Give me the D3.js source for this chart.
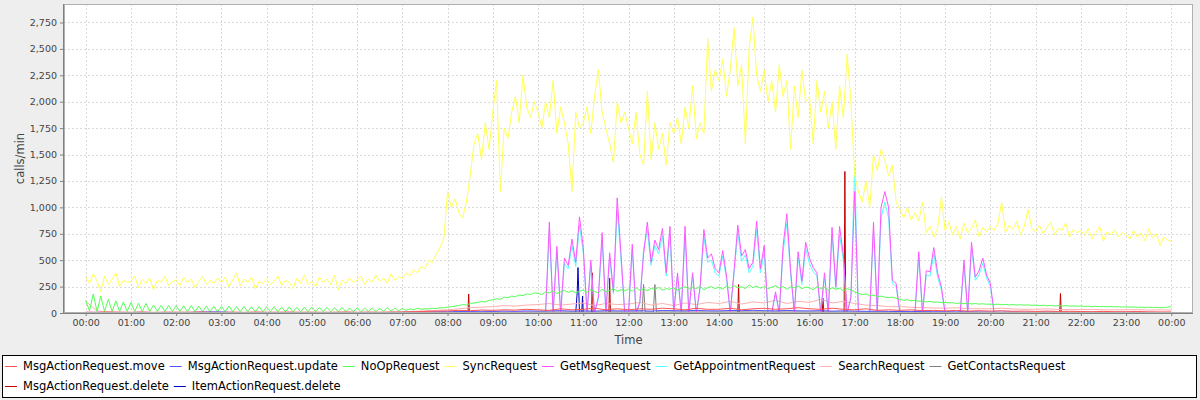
<!DOCTYPE html>
<html><head><meta charset="utf-8">
<script src="https://cdn.jsdelivr.net/npm/d3@7"></script>
<style>
html,body{margin:0;padding:0;background:#eeeeee;}
svg{display:block;font-family:"DejaVu Sans",sans-serif;}
</style></head><body>
<svg id="chart" width="1200" height="400"></svg>
<script>
// ---------------- DATA ----------------
const xTickLabels = ["00:00","01:00","02:00","03:00","04:00","05:00","06:00","07:00","08:00","09:00","10:00","11:00",
  "12:00","13:00","14:00","15:00","16:00","17:00","18:00","19:00","20:00","21:00","22:00","23:00","00:00"];
const yTickValues = [0,250,500,750,1000,1250,1500,1750,2000,2250,2500,2750];
const seriesNames = ["MsgActionRequest.move","MsgActionRequest.update","NoOpRequest","SyncRequest","GetMsgRequest",
  "GetAppointmentRequest","SearchRequest","GetContactsRequest","MsgActionRequest.delete","ItemActionRequest.delete"];
const xAxisTitle = "Time";
const yAxisTitle = "calls/min";

// SyncRequest, every 5 minutes from 00:00
const syncRequest = [
 340,280,370,300,200,350,270,320,380,250,310,290,
 300,350,240,320,280,330,220,310,290,350,260,300,
 310,260,340,290,320,240,300,350,270,310,280,330,
 290,340,250,310,380,260,320,290,340,230,300,280,
 320,270,300,350,260,310,290,230,330,280,360,270,
 300,250,340,290,320,270,360,220,310,280,330,290,
 310,350,270,320,290,360,300,330,280,370,310,340,
 330,380,350,410,380,440,420,500,480,560,620,700,
 1150,1000,1080,950,900,1050,1300,1600,1700,1450,1800,1550,
 1900,2200,1150,1750,1650,1900,2050,1800,2250,1950,1850,2000,
 1900,1750,2000,1850,2200,1700,1950,1800,1600,1150,1900,1750,
 1800,1950,1700,2050,2300,1900,1750,1600,1420,2000,1800,1900,
 1750,1600,1900,1500,1400,2100,1450,1800,1550,1700,1400,1800,
 1700,1850,1600,1950,1750,2150,1650,1800,1700,2600,2100,2300,
 2200,2400,2050,2300,2700,2150,2350,1600,2500,2800,2250,2100,
 2300,2000,2200,1900,2350,2050,2200,1550,2150,1850,2300,2000,
 2050,1600,2200,1900,2100,1750,2000,1550,2150,1850,2450,2000,
 1300,1150,1050,1250,1000,1500,1350,1550,1450,1300,1400,1050,
 980,900,1000,880,950,870,1050,760,820,720,800,1100,
 780,860,740,820,700,850,760,800,880,720,810,770,
 820,780,850,1050,760,830,790,870,740,820,980,800,
 770,830,750,810,860,740,800,780,850,720,790,760,
 780,730,800,700,760,820,680,770,740,790,720,760,
 740,700,780,720,760,680,800,710,750,640,720,690,
 680];

// NoOpRequest, every 5 minutes from 00:00
const noOpRequest = [
 120,20,180,15,160,15,130,15,115,15,105,15,
 100,15,92,15,90,15,75,15,72,15,70,15,
 70,15,68,12,70,12,65,12,66,12,64,12,
 62,12,66,12,60,12,62,12,58,12,60,12,
 58,12,60,12,55,12,58,12,54,12,56,12,
 55,12,52,12,54,12,50,12,52,12,48,12,
 50,12,46,14,48,15,45,16,50,18,46,20,
 45,25,40,30,45,35,40,38,45,42,50,48,
 55,60,65,70,80,75,90,95,100,110,105,120,
 125,135,130,150,145,160,155,170,165,180,175,190,
 185,175,200,190,210,185,200,215,195,210,190,205,
 215,195,220,205,190,225,200,215,230,205,220,210,
 225,205,240,215,230,210,235,220,245,215,230,225,
 240,215,235,250,225,245,230,255,220,240,250,230,
 245,225,255,235,260,240,250,230,265,240,255,235,
 250,230,245,260,235,250,225,245,240,255,230,245,
 240,220,250,230,245,215,240,225,235,210,230,220,
 200,185,175,180,165,170,155,160,150,145,150,140,
 130,120,125,115,120,110,115,105,110,100,105,98,
 100,95,98,90,95,88,92,85,90,84,88,82,
 85,80,84,78,82,76,80,75,78,74,77,72,
 75,70,74,68,72,67,70,66,70,65,68,64,
 66,62,65,60,64,60,63,58,62,57,60,56,
 58,55,57,53,56,52,55,51,54,50,52,55,
 60];

// GetMsgRequest: night every 15 min from 00:00, day every 5 min from 10:00, evening every 15 min from 20:15
const getMsgNight = [5,8,4,6,5,7,3,5,4,6,3,4,3,5,4,3,4,3,5,4,3,4,5,3,4,5,3,4,5,6,4,5,6,5,7,6,8,6,9,7];
const getMsgDay = [
 0,0,0,860,0,630,0,520,450,700,480,910,
 620,0,500,0,150,760,0,570,200,1090,560,0,
 0,650,0,100,560,860,480,690,600,800,380,820,
 0,380,0,820,0,380,0,250,790,520,560,420,
 380,590,350,0,400,830,540,600,420,480,870,420,
 640,0,0,200,0,630,940,410,0,580,300,670,
 520,430,380,0,380,0,810,250,820,550,0,150,
 1150,0,0,0,0,860,0,1000,1150,1000,310,280,
 0,0,0,0,0,580,0,400,390,620,380,250,
 0,0,0,0,0,500,0,670,340,400,520,360,
 280,0,0];
const getMsgEvening = [5,6,4,5,6,4,5,4,5,3,4,5,4,3,4,3];

// GetAppointmentRequest, every 5 min from 10:00
const getAppointmentDay = [
 0,0,0,780,0,580,0,470,420,640,440,830,
 570,0,460,0,130,690,0,520,180,980,510,0,
 0,600,0,90,600,780,450,640,560,730,350,750,
 0,350,0,740,0,350,0,230,720,480,500,380,
 350,540,320,0,370,760,490,550,380,440,790,380,
 580,0,0,180,0,570,850,370,0,530,270,610,
 470,390,350,0,340,0,740,230,740,500,0,140,
 1380,0,0,0,0,780,0,900,1050,900,280,250,
 0,0,0,0,0,530,0,360,350,560,340,220,
 0,0,0,0,0,450,0,610,310,360,470,330,
 250,0,0];

// SearchRequest, every 15 min from 00:00
const searchRequest = [
 110,20,10,8, 8,10,8,10, 8,10,8,10, 8,10,8,10, 8,10,8,10, 8,10,8,10, 8,10,8,10,
 10,15,20,25, 30,40,50,55, 60,70,65,75, 80,90,75,85, 95,70,90,80, 85,100,75,90,
 70,95,80,100, 90,110,85,105, 95,120,90,110, 100,130,95,110, 90,75,70,60,
 60,55,50,48, 45,50,42,40, 40,45,38,35, 35,40,33,32, 32,35,30,30, 30,32,28,30, 28];

// MsgActionRequest.move, every 15 min from 00:00
const msgActionMove = [
 8,5,10,6, 5,8,4,6, 7,5,9,6, 5,7,4,8, 6,5,8,5, 7,4,6,9, 5,7,6,8, 10,12,15,18,
 20,25,22,28, 25,30,28,35, 30,25,40,30, 35,45,30,40, 30,40,35,45, 40,30,45,35,
 35,45,30,40, 45,35,40,50, 40,35,45,35, 30,40,25,30, 25,30,22,25, 20,25,18,22,
 18,22,16,18, 15,18,14,16, 14,12,15,12, 12,14,11,10, 10];

// MsgActionRequest.update, every 15 min from 00:00
const msgActionUpdate = [
 2,3,2,3, 3,2,3,2, 3,4,8,10, 10,4,3,2, 2,3,2,3, 3,2,3,2, 3,4,3,5, 6,8,10,12,
 12,14,15,16, 15,18,16,20, 18,20,22,18, 20,18,22,20, 20,22,18,24, 22,20,25,21,
 20,24,22,25, 22,20,24,21, 20,22,18,20, 18,16,17,15, 14,15,13,12, 12,11,12,10,
 10,9,10,8, 8,9,7,8, 7,8,6,7, 6,7,6,5, 5];

// GetContactsRequest, observed points
const getContactsTimes  = ["00:00","08:00","10:00","12:18","12:20","12:22","12:33","12:35","12:37","17:00","20:00","24:00"];
const getContactsValues = [5,5,10,10,270,10,10,270,10,10,5,5];

// MsgActionRequest.delete, observed points
const msgDeleteTimes  = ["00:00","08:27","08:28","08:29","11:11","11:12","11:13","11:34","11:35","11:36","14:25","14:26","14:27",
  "16:17","16:18","16:19","16:46","16:47","16:48","16:49","21:32","21:33","21:34","24:00"];
const msgDeleteValues = [0,0,180,0,0,380,0,0,330,0,0,270,0,0,140,0,0,1340,200,0,0,185,0,0];

// ItemActionRequest.delete, observed points
const itemDeleteTimes  = ["00:00","10:50","10:52","10:53","10:55","10:58","10:59","11:00","24:00"];
const itemDeleteValues = [0,0,200,430,0,0,160,0,0];

// ---------------- STYLE ----------------
const seriesColors = ["#FF5555","#5555FF","#55FF55","#FFFF55","#FF55FF","#55FFFF","#FFAFAF","#808080","#C00000","#0000C0"];

// ---------------- HELPERS ----------------
const toMin = s => { const [h,m] = s.split(":").map(Number); return h*60+m; };
const seq = (start, step, vals) => vals.map((v,i) => ({t: toMin(start)+i*step, v}));
const pts = (times, vals) => times.map((t,i) => ({t: toMin(t), v: vals[i]}));

const seriesPoints = [
  seq("00:00",15,msgActionMove),
  seq("00:00",15,msgActionUpdate),
  seq("00:00",5,noOpRequest),
  seq("00:00",5,syncRequest),
  [].concat(seq("00:00",15,getMsgNight), seq("10:00",5,getMsgDay), seq("20:15",15,getMsgEvening)),
  seq("10:00",5,getAppointmentDay),
  seq("00:00",15,searchRequest),
  pts(getContactsTimes,getContactsValues),
  pts(msgDeleteTimes,msgDeleteValues),
  pts(itemDeleteTimes,itemDeleteValues)
];

// ---------------- CHART ----------------
const svg = d3.select("#chart");
const W = 1200, H = 400;
const plot = {l:64, r:1193, t:4, b:313};
svg.append("rect").attr("width",W).attr("height",H).attr("fill","#eeeeee");

const x = d3.scaleLinear().domain([-0.02*1440, 1.02*1440]).range([plot.l, plot.r]);
const y = d3.scaleLinear().domain([0, 2925]).range([plot.b, plot.t]);

svg.append("rect").attr("x",plot.l).attr("y",plot.t).attr("width",plot.r-plot.l).attr("height",plot.b-plot.t)
  .attr("fill","#ffffff");

const xTickVals = d3.range(xTickLabels.length).map(i => i*60);

// gridlines
const grid = svg.append("g").attr("stroke","#dadada").attr("stroke-width",1).attr("stroke-dasharray","2,2");
grid.selectAll(".vg").data(xTickVals).join("line")
  .attr("x1",d=>Math.round(x(d))+0.5).attr("x2",d=>Math.round(x(d))+0.5).attr("y1",plot.t).attr("y2",plot.b);
grid.selectAll(".hg").data(yTickValues.filter(v=>v>0)).join("line")
  .attr("x1",plot.l).attr("x2",plot.r).attr("y1",d=>Math.round(y(d))+0.5).attr("y2",d=>Math.round(y(d))+0.5);

// clip
svg.append("clipPath").attr("id","clip").append("rect")
  .attr("x",plot.l).attr("y",plot.t).attr("width",plot.r-plot.l).attr("height",plot.b-plot.t);

const line = d3.line().x(d=>x(d.t)).y(d=>y(d.v));
const lines = svg.append("g").attr("clip-path","url(#clip)");
// JFreeChart draws in reverse order (first series on top)
for (let i = seriesPoints.length-1; i >= 0; i--) {
  lines.append("path").datum(seriesPoints[i])
    .attr("fill","none").attr("stroke",seriesColors[i]).attr("stroke-width",1)
    .attr("stroke-linejoin","round").attr("d",line);
}

// outline
svg.append("rect").attr("x",plot.l+0.5).attr("y",plot.t+0.5).attr("width",plot.r-plot.l-1).attr("height",plot.b-plot.t-1)
  .attr("fill","none").attr("stroke","#b0b0b0").attr("stroke-width",1);

// axes
const xAxis = d3.axisBottom(x).tickValues(xTickVals).tickFormat((d,i)=>xTickLabels[i]).tickSizeInner(3).tickSizeOuter(0).tickPadding(3);
const gx = svg.append("g").attr("transform",`translate(0,${plot.b})`).call(xAxis);
const yAxis = d3.axisLeft(y).tickValues(yTickValues).tickFormat(d3.format(",")).tickSizeInner(4).tickSizeOuter(0).tickPadding(3);
const gy = svg.append("g").attr("transform",`translate(${plot.l},0)`).call(yAxis);
[gx,gy].forEach(g=>{
  g.select(".domain").attr("stroke","#808080");
  g.selectAll(".tick line").attr("stroke","#808080");
  g.selectAll(".tick text").attr("fill","#444444").attr("font-size","9.5px").attr("font-family","DejaVu Sans");
});
gx.select(".domain").attr("d",`M${plot.l},0.5H${plot.r}`);
gy.select(".domain").attr("d",`M-0.5,${plot.t}V${plot.b}`);

// axis titles
svg.append("text").attr("x",(plot.l+plot.r)/2).attr("y",340).attr("dy","0.35em").attr("text-anchor","middle")
  .attr("font-size","11.5px").attr("fill","#444444").text(xAxisTitle);
svg.append("text").attr("transform",`translate(19.5,${(plot.t+plot.b)/2}) rotate(-90)`).attr("dy","0.35em")
  .attr("text-anchor","middle").attr("font-size","11.5px").attr("fill","#444444").text(yAxisTitle);

// legend
const legend = svg.append("g");
legend.append("rect").attr("x",2.5).attr("y",355.5).attr("width",1194).attr("height",42)
  .attr("fill","#ffffff").attr("stroke","#000000");
const rows = [[0,1,2,3,4,5,6,7],[8,9]];
const rowY = [366,386];
rows.forEach((row,ri)=>{
  let cx = 5;
  row.forEach(si=>{
    const gItem = legend.append("g");
    gItem.append("line").attr("x1",cx).attr("x2",cx+12).attr("y1",rowY[ri]+0.5).attr("y2",rowY[ri]+0.5)
      .attr("stroke",seriesColors[si]).attr("stroke-width",1);
    const t = gItem.append("text").attr("x",cx+18).attr("y",rowY[ri]).attr("dy","0.35em")
      .attr("font-size","11.5px").attr("fill","#000").text(seriesNames[si]);
    cx = cx + 18 + t.node().getComputedTextLength() + 5;
  });
});
</script>
</body></html>
